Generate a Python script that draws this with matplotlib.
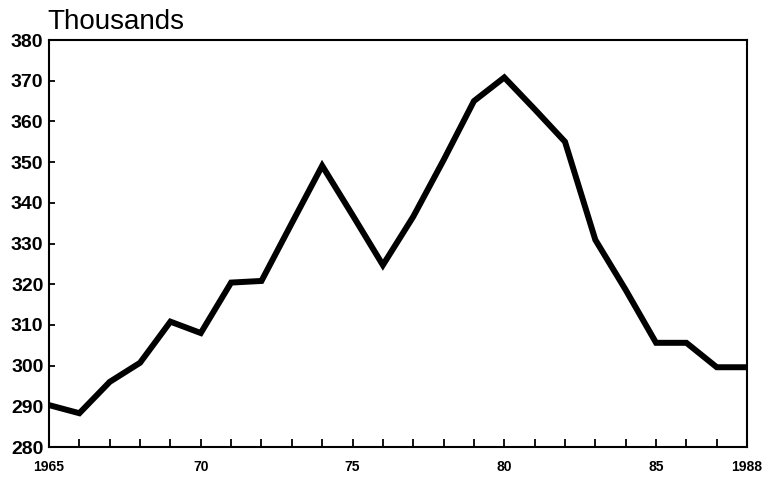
import matplotlib
matplotlib.use("Agg")
import matplotlib.pyplot as plt

# valeurs (milliers)
years = list(range(1965, 1989))
values = [290.3, 288.3, 296.0, 300.7, 310.8, 308.0, 320.4, 320.8, 335.0, 349.1,
          337.0, 324.7, 336.6, 350.5, 365.0, 370.8, 363.0, 355.0, 330.9, 318.6,
          305.6, 305.6, 299.6, 299.6]

xtick_pos = [1965, 1970, 1975, 1980, 1985, 1988]
xtick_lab = ["1965", "70", "75", "80", "85", "1988"]
ytick_pos = list(range(280, 381, 10))

plt.rcParams['font.family'] = ['Liberation Sans', 'DejaVu Sans']

fig = plt.figure(figsize=(7.68, 4.82), dpi=100)
ax = fig.add_axes([0.0638, 0.0726, 0.909, 0.8444])

ax.plot(years, values, color="black", linewidth=4.3, solid_joinstyle="miter")

ax.set_xlim(1965, 1988)
ax.set_ylim(280, 380)

ax.set_xticks(years, minor=True)
ax.set_xticks(xtick_pos)
ax.set_xticklabels(xtick_lab, fontsize=10, fontweight="bold")
ax.set_yticks(ytick_pos)
ax.set_yticklabels([str(v) for v in ytick_pos], fontsize=14, fontweight="bold")

ax.tick_params(axis="x", which="both", direction="in", length=6, width=1.3, pad=9)
ax.tick_params(axis="y", direction="in", length=4, width=1.3, pad=4)

for s in ax.spines.values():
    s.set_linewidth(1.5)

fig.text(0.062, 0.928, "Thousands", fontsize=20, ha="left", va="bottom")

fig.savefig("out.png", dpi=100)
